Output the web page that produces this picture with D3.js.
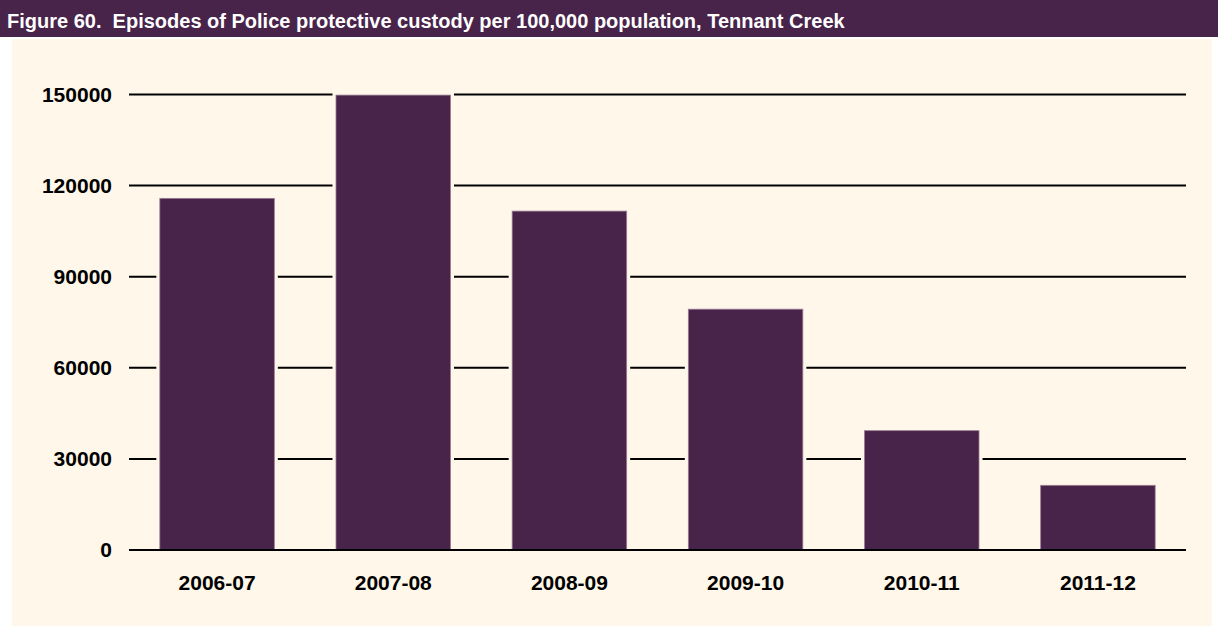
<!DOCTYPE html>
<html>
<head>
<meta charset="utf-8">
<script src="https://cdn.jsdelivr.net/npm/d3@7"></script>
<style>
  html, body { margin: 0; padding: 0; background: #ffffff; }
  svg { display: block; }
  text { font-family: "Liberation Sans", Arial, Helvetica, sans-serif; font-weight: bold; }
</style>
</head>
<body>
<svg id="chart" width="1218" height="626"></svg>
<script>
const title = "Figure 60.\u00a0 Episodes of Police protective custody per 100,000 population, Tennant Creek";
const categories = ["2006-07", "2007-08", "2008-09", "2009-10", "2010-11", "2011-12"];
const values = [115800, 149800, 111600, 79300, 39300, 21300];
const yTicks = [0, 30000, 60000, 90000, 120000, 150000];

const svg = d3.select("#chart");
const W = 1218, H = 626;
const panelColor = "#fef7ea";

// title band
svg.append("rect").attr("x", 0).attr("y", 0).attr("width", W).attr("height", 37).attr("fill", "#48234a");
svg.append("text").attr("x", 7).attr("y", 28).attr("fill", "#ffffff")
  .style("font-size", "20px").text(title);

// panel
svg.append("rect").attr("x", 12).attr("y", 39).attr("width", 1200).attr("height", H - 39).attr("fill", panelColor);

const x = d3.scaleBand().domain(categories).range([129, 1186]).paddingInner(0.35).paddingOuter(0.175);
const y = d3.scaleLinear().domain([0, 150000]).range([550, 94.5]);

// gridlines
svg.append("g").selectAll("line").data(yTicks.filter(d => d > 0)).join("line")
  .attr("x1", 129).attr("x2", 1186)
  .attr("y1", d => y(d)).attr("y2", d => y(d))
  .attr("stroke", "#000").attr("stroke-width", 2);

// gap around bars
svg.append("g").selectAll("rect").data(values).join("rect")
  .attr("x", (d, i) => x(categories[i]) - 3.5)
  .attr("width", x.bandwidth() + 7)
  .attr("y", d => y(d) - 3)
  .attr("height", d => y(0) - y(d) + 3)
  .attr("fill", panelColor);

// bars
svg.append("g").selectAll("rect").data(values).join("rect")
  .attr("x", (d, i) => x(categories[i]))
  .attr("width", x.bandwidth())
  .attr("y", d => y(d))
  .attr("height", d => y(0) - y(d))
  .attr("fill", "#48234a")
  .attr("stroke", "#9a7d95").attr("stroke-width", 0.8);

// zero line
svg.append("line").attr("x1", 129).attr("x2", 1186).attr("y1", y(0)).attr("y2", y(0))
  .attr("stroke", "#000").attr("stroke-width", 2);

// y axis labels
const yAxis = d3.axisLeft(y).tickValues(yTicks).tickSize(0).tickPadding(0).tickFormat(d3.format("d"));
const ya = svg.append("g").attr("transform", "translate(112,0)").call(yAxis);
ya.select(".domain").remove();
ya.selectAll("text").style("font-size", "21px").attr("fill", "#000").attr("font-family", null);

// x axis labels
const xAxis = d3.axisBottom(x).tickSize(0).tickPadding(0);
const xa = svg.append("g").attr("transform", "translate(0,590)").call(xAxis);
xa.select(".domain").remove();
xa.selectAll("text").style("font-size", "21px").attr("fill", "#000").attr("font-family", null)
  .attr("y", 0).attr("dy", 0);
</script>
</body>
</html>
